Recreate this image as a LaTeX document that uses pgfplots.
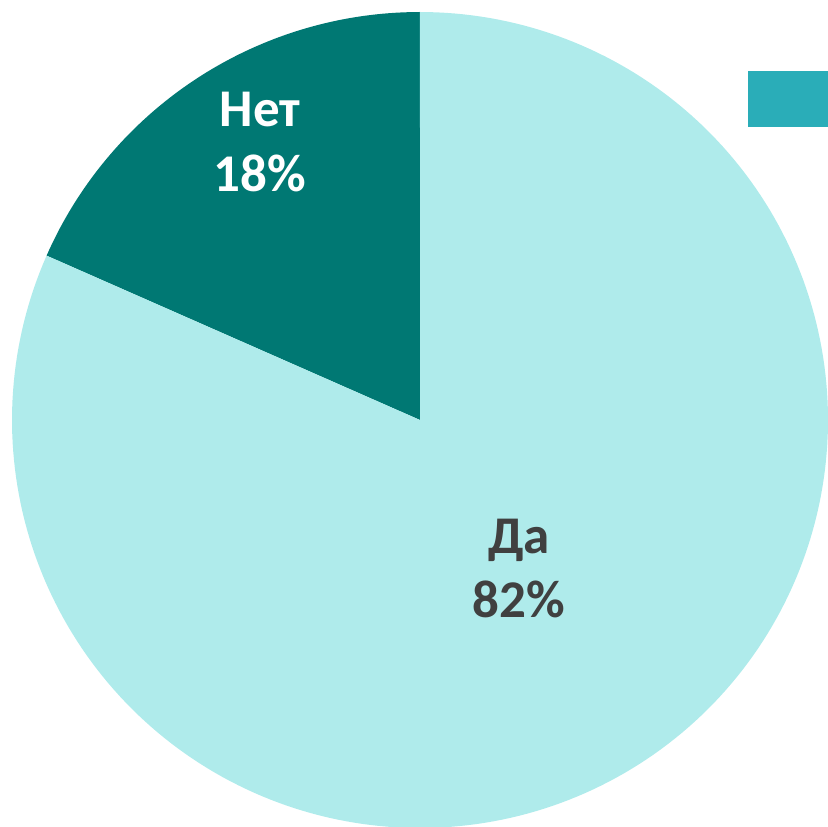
\documentclass[border=0pt]{standalone}
\usepackage{pgfplots}
\usepackage{pgfplotstable}
\pgfplotsset{compat=1.18}
\usepackage{fontspec}
\setmainfont{Carlito}
\definecolor{lightc}{HTML}{AFEBEB}
\definecolor{darkc}{HTML}{007873}
\definecolor{legc}{HTML}{2AADB8}
\definecolor{txtc}{HTML}{404040}
\pgfplotstableread{
label value
Net 18.4
Da 81.6
}\piedata
\pgfplotstablegetelem{0}{value}\of\piedata \let\vNet\pgfplotsretval
\pgfplotstablegetelem{1}{value}\of\piedata \let\vDa\pgfplotsretval
\pgfmathsetmacro{\aStart}{90}
\pgfmathsetmacro{\aMid}{90+360*\vNet/(\vNet+\vDa)}
\pgfmathsetmacro{\aEnd}{90+360}
\newcommand{\pct}[1]{\pgfmathprintnumber[fixed,precision=0,assume math mode=true]{#1}\%}
\begin{document}
\begin{tikzpicture}
\begin{axis}[
  scale only axis, width=414pt, height=413pt,
  xmin=0, xmax=828, ymin=0, ymax=826,
  hide axis, clip=true,
]
% Нет slice
\addplot[fill=darkc, draw=none, domain=\aStart:\aMid, samples=80]
  ({420+408*cos(x)},{406+408*sin(x)}) -- (axis cs:420,406) -- cycle;
% Да slice
\addplot[fill=lightc, draw=none, domain=\aMid:\aEnd, samples=240]
  ({420+408*cos(x)},{406+408*sin(x)}) -- (axis cs:420,406) -- cycle;
% legend marker fragment
\addplot[fill=legc, draw=none] coordinates {(748,699) (830,699) (830,755) (748,755)} -- cycle;
\node[anchor=base, text=white, font=\bfseries\fontsize{26.5}{30}\selectfont] at (axis cs:260,699) {Нет};
\node[anchor=base, text=white, font=\bfseries\fontsize{26.5}{30}\selectfont] at (axis cs:260,634) {\pct{\vNet}};
\node[anchor=base, text=txtc, font=\bfseries\fontsize{26.5}{30}\selectfont] at (axis cs:519,273) {Да};
\node[anchor=base, text=txtc, font=\bfseries\fontsize{26.5}{30}\selectfont] at (axis cs:519,209) {\pct{\vDa}};
\end{axis}
\pgfresetboundingbox
\path[use as bounding box] (current axis.south west) rectangle (current axis.north east);
\end{tikzpicture}
\end{document}
